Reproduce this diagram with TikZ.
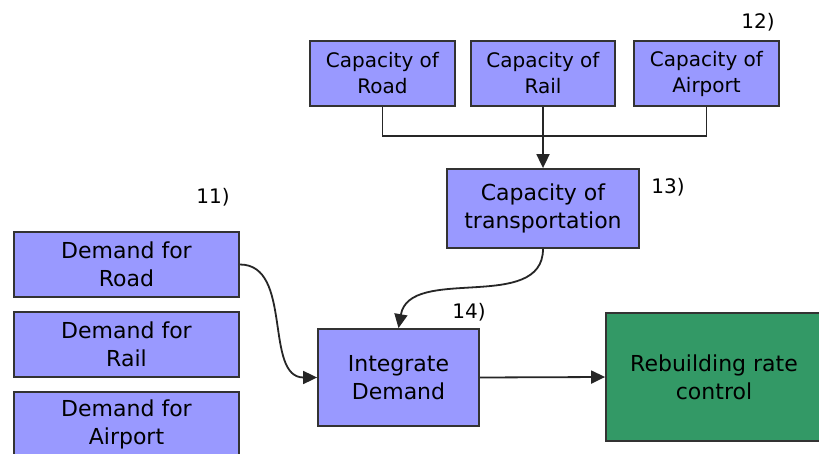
\documentclass[tikz,border=0pt]{standalone}
\usepackage{fontspec}
\setmainfont{DejaVu Sans}
\usetikzlibrary{arrows.meta}
\definecolor{boxblue}{HTML}{9999FF}
\definecolor{boxgreen}{HTML}{339966}
\tikzset{
    blockbox/.style={draw=black!80, line width=1.8pt, fill=boxblue, align=center, inner sep=0pt},
    smallfont/.style={font=\fontsize{20}{26}\selectfont},
    bigfont/.style={font=\fontsize{22}{28}\selectfont},
    numlabel/.style={font=\fontsize{20}{22}\selectfont},
    link/.style={line width=1.8pt, black!85},
    tip/.style={-{Triangle[length=14pt, width=13pt]}}
}
\begin{document}
\begin{tikzpicture}[x=1pt, y=-1pt]
    \clip (0,0) rectangle (819,454);
    \fill[white] (0,0) rectangle (819,454);

    % Capacity of each mode
    \node[blockbox, smallfont, minimum width=145pt, minimum height=65pt] (capRoad) at (382.5,73.5) {Capacity of\\Road};
    \node[blockbox, smallfont, minimum width=144pt, minimum height=65pt] (capRail) at (543,73.5) {Capacity of\\Rail};
    \node[blockbox, smallfont, minimum width=145pt, minimum height=65pt] (capAir) at (706.5,73.5) {Capacity of\\Airport};
    \node[blockbox, bigfont, minimum width=192pt, minimum height=79pt] (capTrans) at (543,208.5) {Capacity of\\transportation};

    % Demand of each mode
    \node[blockbox, bigfont, minimum width=225pt, minimum height=65pt] (demRoad) at (126.5,264.5) {Demand for\\Road};
    \node[blockbox, bigfont, minimum width=225pt, minimum height=65pt] (demRail) at (126.5,344.5) {Demand for\\Rail};
    \node[blockbox, bigfont, minimum width=225pt, minimum height=65pt] (demAir) at (126.5,424.5) {Demand for\\Airport};

    \node[blockbox, bigfont, minimum width=161pt, minimum height=97pt] (integ) at (398.5,377.5) {Integrate\\Demand};
    \node[blockbox, bigfont, fill=boxgreen, minimum width=216pt, minimum height=128pt] (rebuild) at (714,377) {Rebuilding rate\\control};

    % Step numbers
    \node[numlabel] (n11) at (213,197) {11)};
    \node[numlabel] (n12) at (758,22) {12)};
    \node[numlabel] (n13) at (668,187) {13)};
    \node[numlabel] (n14) at (469,312) {14)};

    % Connectors
    \coordinate (join) at (543,136);
    \draw[link] (capRoad.south) |- (join) -| (capAir.south);
    \draw[link, tip] (capRail.south) -- (capTrans.north);
    \draw[link, tip] (capTrans.south) to[out=-90, in=80] (integ.north);
    \draw[link, tip] (demRoad.east) to[out=0, in=180] (integ.west);
    \draw[link, tip] (integ.east) -- (rebuild.west);
\end{tikzpicture}
\end{document}
